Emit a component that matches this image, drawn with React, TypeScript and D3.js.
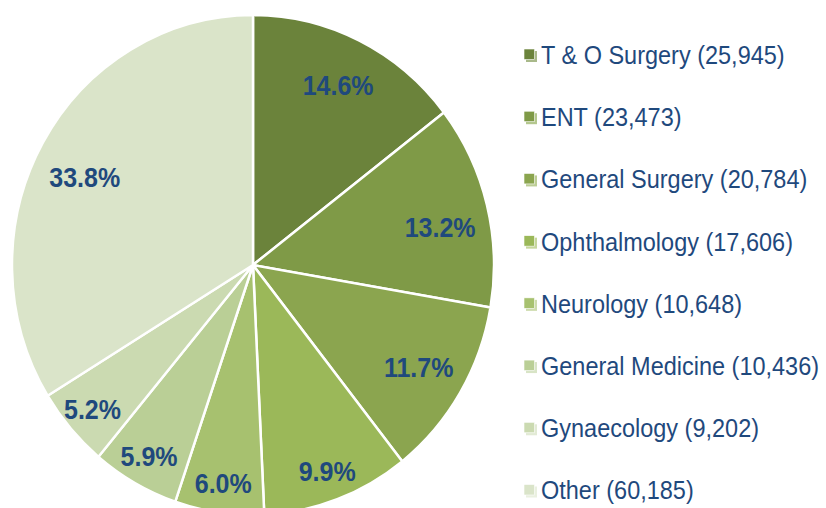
import React from "react";
import * as d3 from "d3";

const categories = [
  "T & O Surgery",
  "ENT",
  "General Surgery",
  "Ophthalmology",
  "Neurology",
  "General Medicine",
  "Gynaecology",
  "Other",
];
const values = [25945, 23473, 20784, 17606, 10648, 10436, 9202, 60185];
const colors = [
  "#6b833b",
  "#7f9a47",
  "#8ba54f",
  "#9bb859",
  "#a7c16f",
  "#bacf96",
  "#cbdab1",
  "#dae4c9",
];
const shadowColors = [
  "#a9b98a",
  "#b4c78e",
  "#bccd95",
  "#c6d79d",
  "#cddbad",
  "#d8e4c6",
  "#e2ead5",
  "#eaf0e0",
];

const W = 826;
const H = 508;
const cx = 253;
const cy = 265;
const rx = 241;
const ry = 250;
const textColor = "#1f497d";

export default function App() {
  const total = d3.sum(values);
  const pie = d3
    .pie<number>()
    .sort(null)
    .value((d) => d)
    .startAngle(0)
    .endAngle(2 * Math.PI);
  const arcs = pie(values);
  const arcGen = d3.arc<d3.PieArcDatum<number>>().innerRadius(0).outerRadius(rx);
  const fmt = d3.format(",");

  const legendY = d3
    .scalePoint<string>()
    .domain(categories)
    .range([64, 499.5]);

  return (
    <svg
      width={W}
      height={H}
      style={{ position: "absolute", left: 0, top: 0, background: "#fff" }}
      fontFamily="'Liberation Sans', Arial, sans-serif"
    >
      <g transform={`translate(${cx},${cy}) scale(1,${ry / rx})`}>
        {arcs.map((a, i) => (
          <path
            key={i}
            d={arcGen(a) || ""}
            fill={colors[i]}
            stroke="#fff"
            strokeWidth={2.5}
            strokeLinejoin="round"
            vectorEffect="non-scaling-stroke"
          />
        ))}
      </g>
      {arcs.map((a, i) => {
        const frac = values[i] / total;
        const mid = (a.startAngle + a.endAngle) / 2;
        const f = frac > 0.1 ? 0.8 : 0.88;
        const x = cx + Math.sin(mid) * rx * f;
        const y = cy - Math.cos(mid) * ry * f + (frac > 0.13 && frac < 0.14 ? 10 : frac > 0.3 ? 10 : 0);
        return (
          <text
            key={i}
            x={x}
            y={y}
            dy="0.36em"
            textAnchor="middle"
            fontSize={25}
            fontWeight="bold"
            fill={textColor}
            transform={`translate(0,${y}) scale(1,1.08) translate(0,${-y})`}
          >
            {(frac * 100).toFixed(1) + "%"}
          </text>
        );
      })}
      {categories.map((c, i) => {
        const by = legendY(c) as number;
        return (
          <g key={c}>
            <rect x={526} y={by - 13} width={11} height={11} fill={shadowColors[i]} />
            <rect x={524} y={by - 15} width={10.5} height={10.5} fill={colors[i]} />
            <rect x={524} y={by - 15} width={10.5} height={10.5} fill="none" stroke="#fff" strokeWidth={0.6} />
            <text
              x={541}
              y={by}
              fontSize={23.5}
              fill={textColor}
              transform={`translate(0,${by}) scale(1,1.1) translate(0,${-by})`}
            >
              {`${c} (${fmt(values[i])})`}
            </text>
          </g>
        );
      })}
    </svg>
  );
}
